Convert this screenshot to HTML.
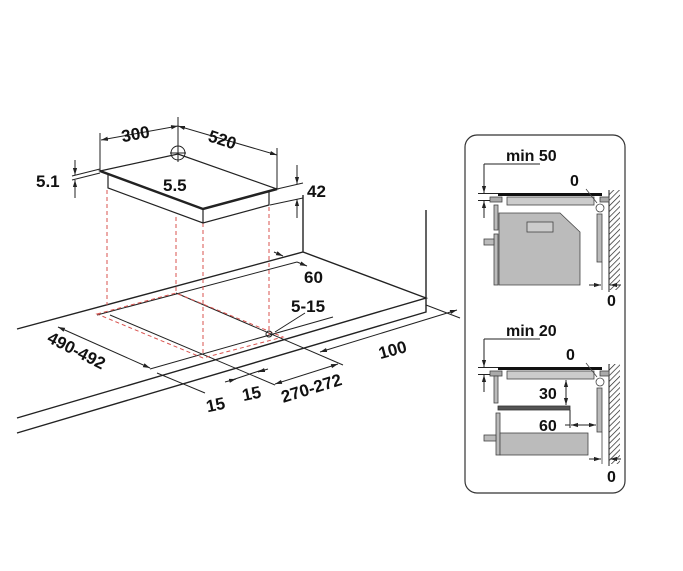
<!DOCTYPE html>
<html><head><meta charset="utf-8"><style>
html,body{margin:0;padding:0;background:#fff}
svg{display:block}
text{font-family:"Liberation Sans",sans-serif;font-weight:bold;fill:#111}
</style></head><body>
<svg width="683" height="571" viewBox="0 0 683 571" xmlns="http://www.w3.org/2000/svg">
<defs>
<marker id="a" viewBox="0 0 10 10" refX="10" refY="5" markerWidth="7" markerHeight="7" orient="auto-start-reverse"><path d="M0,2 L10,5 L0,8 z" fill="#222"/></marker>
<pattern id="h" width="4" height="4" patternUnits="userSpaceOnUse" patternTransform="rotate(45)"><line x1="0" y1="0" x2="0" y2="4" stroke="#222" stroke-width="1.4"/></pattern>
</defs>
<g stroke="#222" fill="none" stroke-width="1">
<path d="M17,329 L303,252 L426,298 L17,418 M17,433 L426,312 L426,210 M303,252 L303,195" stroke-width="1.4"/>
<path d="M97,315 L297,262 M110,315 L275,385 M176,293 L343,365 M150,369 L333,317 M157,373 L205,393"/>
<g stroke="#d9534f" stroke-dasharray="4,3">
<path d="M107,190 V305 M176,217 V293 M203,223 V356 M269,207 V335"/>
<path d="M97,314 L176,293 L283,337 L203,358 Z"/>
</g>
<circle cx="269" cy="334" r="3"/>
<path d="M100,171 L178,154 L277,189 L203,209 Z" fill="#fff" stroke-width="1.2"/>
<path d="M100,171 L203,209 L277,189" stroke-width="2.5"/>
<path d="M108,175 V188 L203,223 L269,205 V192 M203,210 V223" stroke-width="1.2"/>
<circle cx="178" cy="153" r="7"/>
<path d="M178,144 V162 M170,153 H186"/>
<path d="M100,171 V133 M178,154 V117 M277,189 V148"/>
<line x1="101" y1="140" x2="178" y2="126" marker-start="url(#a)" marker-end="url(#a)"/>
<line x1="178" y1="126" x2="277" y2="155" marker-start="url(#a)" marker-end="url(#a)"/>
<path d="M72,176 L100,169 M72,180 L100,173"/>
<line x1="75" y1="160" x2="75" y2="175" marker-end="url(#a)"/>
<line x1="75" y1="198" x2="75" y2="180" marker-end="url(#a)"/>
<path d="M277,189 L303,183 M270,205 L303,198"/>
<line x1="297" y1="165" x2="297" y2="184" marker-end="url(#a)"/>
<line x1="297" y1="218" x2="297" y2="199" marker-end="url(#a)"/>
<line x1="274" y1="252" x2="283" y2="256" marker-end="url(#a)"/>
<line x1="297" y1="262" x2="307" y2="266" marker-end="url(#a)"/>
<line x1="58" y1="327" x2="150" y2="368" marker-start="url(#a)" marker-end="url(#a)"/>
<line x1="320" y1="352" x2="457" y2="310" marker-start="url(#a)" marker-end="url(#a)"/>
<path d="M426,305 L460,318"/>
<line x1="275" y1="384" x2="338" y2="364" marker-start="url(#a)" marker-end="url(#a)"/>
<path d="M232,380 L262,370"/>
<line x1="225" y1="382" x2="236" y2="379" marker-end="url(#a)"/>
<line x1="268" y1="369" x2="258" y2="372" marker-end="url(#a)"/>
<line x1="275" y1="332" x2="305" y2="313"/>
</g>
<text x="121" y="139" font-size="17" transform="rotate(-10 140 132)">300</text>
<text x="208" y="147" font-size="17" transform="rotate(18 227 141)">520</text>
<text x="36" y="187" font-size="17">5.1</text>
<text x="163" y="191" font-size="17">5.5</text>
<text x="307" y="197" font-size="17">42</text>
<text x="304" y="283" font-size="17">60</text>
<text x="291" y="312" font-size="17">5-15</text>
<text x="378" y="355" font-size="17" transform="rotate(-15 395 348)">100</text>
<text x="45" y="358" font-size="17" transform="rotate(27 80 352)">490-492</text>
<text x="206" y="410" font-size="17" transform="rotate(-12 218 404)">15</text>
<text x="242" y="399" font-size="17" transform="rotate(-12 253 393)">15</text>
<text x="280" y="395" font-size="17" transform="rotate(-17 308 388)">270-272</text>

<rect x="465" y="135" width="160" height="358" rx="12" fill="none" stroke="#333" stroke-width="1.2"/>
<g>
<rect x="609" y="190" width="11" height="100" fill="url(#h)"/>
<line x1="609" y1="190" x2="609" y2="292" stroke="#222"/>
<line x1="498" y1="194.5" x2="602" y2="194.5" stroke="#111" stroke-width="3"/>
<rect x="490" y="197" width="12" height="5" fill="#aaa" stroke="#444" stroke-width="0.8"/>
<rect x="507" y="197" width="87" height="8" fill="#ccc" stroke="#444" stroke-width="0.8"/>
<rect x="600" y="197" width="9" height="5" fill="#aaa" stroke="#444" stroke-width="0.8"/>
<circle cx="600" cy="208" r="4" fill="#fff" stroke="#444" stroke-width="0.8"/>
<line x1="597" y1="203" x2="586" y2="189" stroke="#444" stroke-width="0.8"/>
<rect x="494" y="205" width="4" height="25" fill="#bbb" stroke="#444" stroke-width="0.8"/>
<rect x="494" y="234" width="4" height="51" fill="#bbb" stroke="#444" stroke-width="0.8"/>
<rect x="484" y="239" width="10" height="6" fill="#bbb" stroke="#444" stroke-width="0.8"/>
<path d="M499,213 H560 L580,232 V285 H499 Z" fill="#bbb" stroke="#444" stroke-width="0.8"/>
<rect x="527" y="222" width="26" height="10" fill="#ccc" stroke="#444" stroke-width="0.8"/>
<rect x="597" y="214" width="5" height="48" fill="#bbb" stroke="#444" stroke-width="0.8"/>
<line x1="602" y1="262" x2="602" y2="290" stroke="#444" stroke-width="0.8"/>
<line x1="589" y1="285" x2="601" y2="285" stroke="#222" marker-end="url(#a)"/>
<line x1="621" y1="285" x2="610" y2="285" stroke="#222" marker-end="url(#a)"/>
<path d="M484,164 H540 M484,164 V193 M484,208 V218" stroke="#222" fill="none"/>
<line x1="484" y1="185" x2="484" y2="193" stroke="#222" marker-end="url(#a)"/>
<line x1="484" y1="208" x2="484" y2="201" stroke="#222" marker-end="url(#a)"/>
<line x1="478" y1="193.5" x2="498" y2="193.5" stroke="#222"/>
<line x1="478" y1="200.5" x2="490" y2="200.5" stroke="#222"/>
</g>
<text x="506" y="161" font-size="16">min 50</text>
<text x="570" y="186" font-size="16">0</text>
<text x="607" y="306" font-size="16">0</text>

<g>
<rect x="609" y="364" width="11" height="100" fill="url(#h)"/>
<line x1="609" y1="364" x2="609" y2="466" stroke="#222"/>
<line x1="498" y1="368.5" x2="602" y2="368.5" stroke="#111" stroke-width="3"/>
<rect x="490" y="371" width="12" height="5" fill="#aaa" stroke="#444" stroke-width="0.8"/>
<rect x="507" y="371" width="87" height="8" fill="#ccc" stroke="#444" stroke-width="0.8"/>
<rect x="600" y="371" width="9" height="5" fill="#aaa" stroke="#444" stroke-width="0.8"/>
<circle cx="600" cy="382" r="4" fill="#fff" stroke="#444" stroke-width="0.8"/>
<line x1="597" y1="377" x2="586" y2="363" stroke="#444" stroke-width="0.8"/>
<rect x="494" y="376" width="4" height="27" fill="#bbb" stroke="#444" stroke-width="0.8"/>
<rect x="496" y="413" width="4" height="42" fill="#bbb" stroke="#444" stroke-width="0.8"/>
<rect x="484" y="435" width="12" height="6" fill="#bbb" stroke="#444" stroke-width="0.8"/>
<rect x="498" y="406" width="72" height="4" fill="#555" stroke="#333" stroke-width="0.8"/>
<rect x="500" y="433" width="88" height="22" fill="#bbb" stroke="#444" stroke-width="0.8"/>
<rect x="597" y="388" width="5" height="44" fill="#bbb" stroke="#444" stroke-width="0.8"/>
<line x1="602" y1="432" x2="602" y2="464" stroke="#444" stroke-width="0.8"/>
<line x1="566" y1="390" x2="566" y2="380" stroke="#222" marker-end="url(#a)"/>
<line x1="566" y1="390" x2="566" y2="405" stroke="#222" marker-end="url(#a)"/>
<line x1="570" y1="410" x2="570" y2="428" stroke="#222"/>
<line x1="583" y1="425" x2="571" y2="425" stroke="#222" marker-end="url(#a)"/>
<line x1="583" y1="425" x2="596" y2="425" stroke="#222" marker-end="url(#a)"/>
<line x1="565" y1="425" x2="570" y2="425" stroke="#222"/>
<line x1="589" y1="459" x2="601" y2="459" stroke="#222" marker-end="url(#a)"/>
<line x1="621" y1="459" x2="610" y2="459" stroke="#222" marker-end="url(#a)"/>
<path d="M484,339 H540 M484,339 V367 M484,382 V392" stroke="#222" fill="none"/>
<line x1="484" y1="359" x2="484" y2="367" stroke="#222" marker-end="url(#a)"/>
<line x1="484" y1="382" x2="484" y2="375" stroke="#222" marker-end="url(#a)"/>
<line x1="478" y1="367.5" x2="498" y2="367.5" stroke="#222"/>
<line x1="478" y1="374.5" x2="490" y2="374.5" stroke="#222"/>
</g>
<text x="506" y="336" font-size="16">min 20</text>
<text x="566" y="360" font-size="16">0</text>
<text x="539" y="399" font-size="16">30</text>
<text x="539" y="431" font-size="16">60</text>
<text x="607" y="482" font-size="16">0</text>
</svg>
</body></html>
